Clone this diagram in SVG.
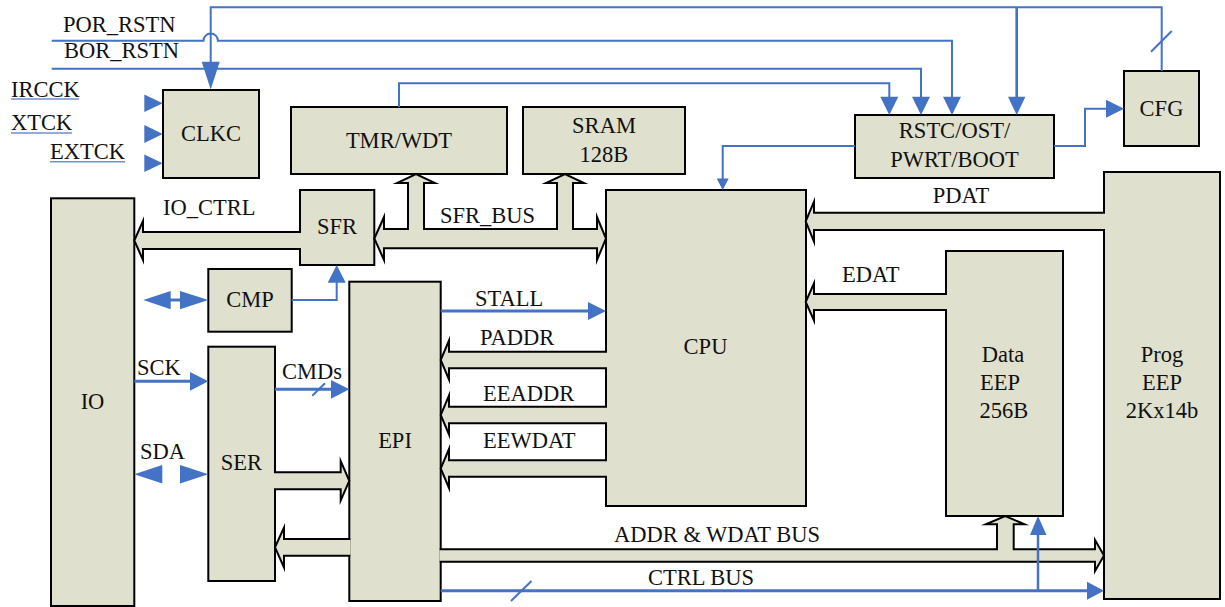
<svg xmlns="http://www.w3.org/2000/svg" width="1225" height="607" viewBox="0 0 1225 607">
<defs>
<style>
.blk{fill:#dfe0ce;stroke:#000;stroke-width:2}
text{font-family:'Liberation Serif','DejaVu Serif',serif;font-size:22.5px;fill:#111}
.m{text-anchor:middle}
.bf{fill:#dfe0ce;stroke:#000;stroke-width:2;stroke-miterlimit:12;stroke-linejoin:miter}
.w{fill:none;stroke:#4472c4;stroke-width:2}
.wt{fill:none;stroke:#4472c4;stroke-width:3}
.ah{fill:#4472c4;stroke:none}
.ul{stroke:#6f8fcf;stroke-width:1.5}
</style>
</defs>
<rect width="1225" height="607" fill="#fff"/>
<g id="nodes">
<g id="clkc"><rect class="blk" x="163" y="90" width="96" height="88"/><text class="m" x="211" y="141">CLKC</text></g>
<g id="tmr"><rect class="blk" x="291" y="107" width="216" height="67"/><text class="m" x="399" y="148">TMR/WDT</text></g>
<g id="sram"><rect class="blk" x="523" y="107" width="162" height="67"/><text class="m" x="604" y="133">SRAM</text><text class="m" x="604" y="161.5">128B</text></g>
<g id="rstc"><rect class="blk" x="855" y="115" width="199" height="63"/><text class="m" x="954.5" y="138">RSTC/OST/</text><text class="m" x="954.5" y="166.5">PWRT/BOOT</text></g>
<g id="cfg"><rect class="blk" x="1124" y="71" width="75" height="75"/><text class="m" x="1161.5" y="116">CFG</text></g>
<g id="io"><rect class="blk" x="51" y="198.3" width="83.3" height="407.7"/><text class="m" x="92.5" y="409">IO</text></g>
<g id="sfr"><rect class="blk" x="300" y="190" width="74.3" height="75"/><text class="m" x="337" y="234">SFR</text></g>
<g id="cmp"><rect class="blk" x="208.3" y="269" width="83.4" height="62.7"/><text class="m" x="250" y="306.5">CMP</text></g>
<g id="ser"><rect class="blk" x="208.3" y="346.7" width="66.7" height="234.3"/><text class="m" x="241.5" y="470">SER</text></g>
<g id="epi"><rect class="blk" x="349.3" y="281.7" width="91.4" height="319.3"/><text class="m" x="395" y="448">EPI</text></g>
<g id="cpu"><rect class="blk" x="606" y="190" width="200" height="316"/><text class="m" x="705.5" y="354">CPU</text></g>
<g id="dataeep"><rect class="blk" x="946" y="251" width="117" height="265"/><text class="m" x="1003" y="361.5">Data</text><text class="m" x="1000" y="390">EEP</text><text class="m" x="1004" y="418">256B</text></g>
<g id="progeep"><rect class="blk" x="1104" y="172" width="116" height="427"/><text class="m" x="1162" y="361.5">Prog</text><text class="m" x="1162" y="390">EEP</text><text class="m" x="1162" y="418">2Kx14b</text></g>
</g>
<g id="connectors">
<path class="bf" d="M374.3,238.5 L384,217 V229 H408 V183 H397 L416,174 L435,183 H424 V229 H557 V183 H546 L565,174 L584,183 H573 V229 H597 V217 L606,238.5 L597,260 V248.3 H384 V260 Z"/>
<path class="bf" d="M301,232 H143 V221 L134.3,240.5 L143,260 V249 H301"/>
<path class="bf" d="M1105,212.7 H814 V201.7 L805.7,221.3 L814,241.7 V230 H1105"/>
<path class="bf" d="M947,294 H814 V283.3 L805.7,302 L814,320.5 V310 H947"/>
<path class="bf" d="M607,351.7 H449 V340.5 L440.7,360 L449,379.5 V368.3 H607"/>
<path class="bf" d="M607,406.7 H449 V395.5 L440.7,415 L449,434.5 V423.3 H607"/>
<path class="bf" d="M607,460.3 H449 V449 L440.7,468.5 L449,488 V476.7 H607"/>
<path class="bf" d="M274,472.3 H340.7 V461 L349.3,480.8 L340.7,500.5 V489.3 H274"/>
<path class="bf" d="M350.3,539 H284 V527.5 L275,547.3 L284,567.5 V555.7 H350.3"/>
<path class="bf" d="M439.7,549.3 H997 V524.3 H985.8 L1005.3,516 L1024.5,524.3 H1013.7 V549.3 H1095 V540 L1104,555.5 L1095,571 V561.7 H439.7"/>
<path class="w" d="M51.7,40.7 H203.5 A7.2,7.2 0 0 1 217.9,40.7 H952 V97"/>
<polygon class="ah" points="943,96.7 961,96.7 952,115"/>
<path class="w" d="M51.7,68.7 H921 V97"/>
<polygon class="ah" points="912,96.7 930,96.7 921,115"/>
<path class="w" d="M399,107 V83.3 H889.3 V97"/>
<polygon class="ah" points="880.3,96.7 898.3,96.7 889.3,115"/>
<path class="w" d="M210.7,62 V7.3 H1161.7 V71"/>
<polygon class="ah" points="201.7,61.7 219.7,61.7 210.7,89.5"/>
<path class="w" d="M1016.7,7.3 V97" style="stroke-width:2.6"/>
<polygon class="ah" points="1008,96.7 1025.4,96.7 1016.7,115"/>
<line class="w" x1="1151" y1="51.7" x2="1171.7" y2="31"/>
<path class="w" d="M1054,146 H1085 V108.7 H1107"/>
<polygon class="ah" points="1106,99.7 1124,108.7 1106,117.7"/>
<path class="w" d="M855,146 H722.7 V180"/>
<polygon class="ah" points="716.7,178.5 728.7,178.5 722.7,190"/>
<path class="w" d="M291.7,300 H336.7 V282"/>
<polygon class="ah" points="327.7,282.7 345.7,282.7 336.7,265"/>
<line class="wt" x1="170" y1="300" x2="181" y2="300"/>
<polygon class="ah" points="170.7,291 143.3,300 170.7,309.3"/>
<polygon class="ah" points="180,291 208.3,300 180,309.3"/>
<line class="wt" x1="134.3" y1="381.3" x2="191" y2="381.3"/>
<polygon class="ah" points="190,372 208.3,381.3 190,390.7"/>
<line class="wt" x1="275" y1="389.3" x2="332" y2="389.3"/>
<polygon class="ah" points="331,380 349.3,389.3 331,398.7"/>
<line class="w" x1="312.3" y1="395.7" x2="325" y2="383.3"/>
<polygon class="ah" points="162.3,465 134.3,474.3 162.3,483.5"/>
<polygon class="ah" points="180,465 208.3,474.3 180,483.5"/>
<line class="wt" x1="440.7" y1="311" x2="589" y2="311"/>
<polygon class="ah" points="588,302 606,311 588,320"/>
<line class="wt" x1="440.7" y1="590.7" x2="1088" y2="590.7"/>
<polygon class="ah" points="1087,581.7 1104,590.7 1087,599.7"/>
<line class="w" x1="511" y1="601" x2="531.5" y2="581"/>
<path class="w" d="M1038,590.7 V534" style="stroke-width:2.5"/>
<polygon class="ah" points="1030,535 1046.5,535 1038,516"/>
<line class="ul" x1="11" y1="99" x2="79" y2="99"/>
<line class="ul" x1="11" y1="133" x2="72" y2="133"/>
<line class="ul" x1="50" y1="161.7" x2="125" y2="161.7"/>
<polygon class="ah" points="144.3,94.5 162.7,103.3 144.3,112"/>
<polygon class="ah" points="144.3,125 162.7,134 144.3,143"/>
<polygon class="ah" points="144.3,154.5 162.7,163.3 144.3,172"/>
</g>
<g id="labels">
<text x="63" y="31.7">POR_RSTN</text>
<text x="64" y="58">BOR_RSTN</text>
<text x="11" y="96.5">IRCCK</text>
<text x="11" y="130">XTCK</text>
<text x="50" y="159">EXTCK</text>
<text class="m" x="961" y="203">PDAT</text>
<text x="163" y="215">IO_CTRL</text>
<text x="440" y="222.5">SFR_BUS</text>
<text x="475" y="306">STALL</text>
<text x="480" y="345">PADDR</text>
<text x="483" y="401">EEADDR</text>
<text x="483" y="448">EEWDAT</text>
<text x="842" y="281.5">EDAT</text>
<text x="137" y="375">SCK</text>
<text x="282" y="379">CMDs</text>
<text x="140" y="459">SDA</text>
<text x="614" y="542">ADDR &amp; WDAT BUS</text>
<text class="m" x="701" y="585">CTRL BUS</text>
</g>
</svg>
